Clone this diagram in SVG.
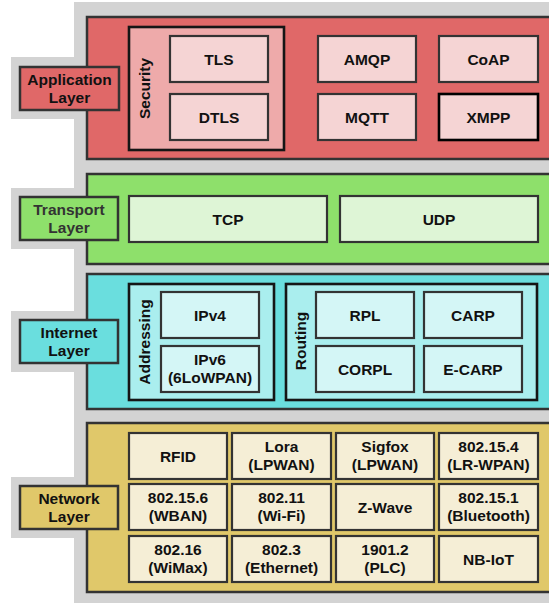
<svg xmlns="http://www.w3.org/2000/svg" width="549" height="603" viewBox="0 0 549 603">
<style>
text{font-family:"Liberation Sans",Arial,sans-serif;font-weight:bold;font-size:15.5px;fill:#111;text-anchor:middle}
.bg{fill:#d3d3d3}
.layer{stroke:#333;stroke-width:2.5}
.box{stroke:#333;stroke-width:2.2}
.grp{stroke:#151515;stroke-width:2.6}
.red{fill:#e06868}.redg{fill:#eeaaaa}.redi{fill:#f5d4d4}
.grn{fill:#8ee06b}.grni{fill:#def5d6}
.cya{fill:#6adede}.cyag{fill:#aaeeee}.cyai{fill:#d4f6f6}
.yel{fill:#e0c86a}.yeli{fill:#f5eed6}
</style>
<rect width="549" height="603" fill="#fff"/>
<g id="background">
<rect class="bg" x="74" y="2" width="480" height="601"/>
<rect class="bg" x="11" y="57" width="70" height="62"/>
<rect class="bg" x="11" y="188" width="70" height="61"/>
<rect class="bg" x="11" y="311" width="70" height="61"/>
<rect class="bg" x="11" y="477" width="70" height="61"/>
</g>
<g id="connectors"/>
<g id="application-layer">
<rect class="layer red" x="87" y="17" width="470" height="142"/>
<g id="app-label"><rect class="layer red" x="20" y="67" width="99" height="43"/><text x="69.5" y="84.5">Application</text><text x="69.5" y="102.5">Layer</text></g>
<g id="security"><rect class="grp redg" x="129" y="27" width="155" height="123"/><text transform="translate(150,88.5) rotate(-90)">Security</text></g>
<g id="tls"><rect class="box redi" x="170" y="36" width="98" height="46"/><text x="219" y="64.5">TLS</text></g>
<g id="dtls"><rect class="box redi" x="170" y="94" width="98" height="46"/><text x="219" y="122.5">DTLS</text></g>
<g id="amqp"><rect class="box redi" x="318" y="36" width="98" height="46"/><text x="367" y="64.5">AMQP</text></g>
<g id="coap"><rect class="box redi" x="439" y="36" width="99" height="46"/><text x="488.5" y="64.5">CoAP</text></g>
<g id="mqtt"><rect class="box redi" x="318" y="94" width="98" height="46"/><text x="367" y="122.5">MQTT</text></g>
<g id="xmpp"><rect class="redi" x="439" y="94" width="99" height="46" stroke="#000" stroke-width="2.6"/><text x="488.5" y="122.5">XMPP</text></g>
</g>
<g id="transport-layer">
<rect class="layer grn" x="87" y="174" width="470" height="90"/>
<g id="transport-label"><rect class="layer grn" x="20" y="197" width="98" height="43"/><text x="69" y="214.5" style="fill:#333">Transport</text><text x="69" y="232.5" style="fill:#333">Layer</text></g>
<g id="tcp"><rect class="box grni" x="129" y="196" width="198" height="46"/><text x="228" y="224.5">TCP</text></g>
<g id="udp"><rect class="box grni" x="340" y="196" width="198" height="46"/><text x="439" y="224.5">UDP</text></g>
</g>
<g id="internet-layer">
<rect class="layer cya" x="87" y="274" width="470" height="135"/>
<g id="internet-label"><rect class="layer cya" x="20" y="320" width="98" height="43"/><text x="69" y="337.5">Internet</text><text x="69" y="355.5">Layer</text></g>
<g id="addressing"><rect class="grp cyag" x="129" y="284" width="145" height="116"/><text transform="translate(150,342) rotate(-90)">Addressing</text></g>
<g id="ipv4"><rect class="box cyai" x="161" y="292" width="98" height="46"/><text x="210" y="320.5">IPv4</text></g>
<g id="ipv6"><rect class="box cyai" x="161" y="346" width="98" height="46"/><text x="210" y="365">IPv6</text><text x="210" y="383">(6LoWPAN)</text></g>
<g id="routing"><rect class="grp cyag" x="286" y="284" width="251" height="116"/><text transform="translate(306,341) rotate(-90)">Routing</text></g>
<g id="rpl"><rect class="box cyai" x="316" y="292" width="98" height="46"/><text x="365" y="320.5">RPL</text></g>
<g id="carp"><rect class="box cyai" x="424" y="292" width="98" height="46"/><text x="473" y="320.5">CARP</text></g>
<g id="corpl"><rect class="box cyai" x="316" y="346" width="98" height="46"/><text x="365" y="374.5">CORPL</text></g>
<g id="e-carp"><rect class="box cyai" x="424" y="346" width="98" height="46"/><text x="473" y="374.5">E-CARP</text></g>
</g>
<g id="network-layer">
<rect class="layer yel" x="87" y="423" width="470" height="169"/>
<g id="network-label"><rect class="layer yel" x="20" y="486" width="98" height="43"/><text x="69" y="503.5">Network</text><text x="69" y="521.5">Layer</text></g>
<g id="rfid"><rect class="box yeli" x="129" y="433" width="98" height="46"/><text x="178" y="461.5">RFID</text></g>
<g id="lora"><rect class="box yeli" x="232" y="433" width="99" height="46"/><text x="281.5" y="451.5">Lora</text><text x="281.5" y="469.5">(LPWAN)</text></g>
<g id="sigfox"><rect class="box yeli" x="336" y="433" width="98" height="46"/><text x="385" y="451.5">Sigfox</text><text x="385" y="469.5">(LPWAN)</text></g>
<g id="ieee802154"><rect class="box yeli" x="439" y="433" width="99" height="46"/><text x="488.5" y="451.5">802.15.4</text><text x="488.5" y="469.5">(LR-WPAN)</text></g>
<g id="ieee802156"><rect class="box yeli" x="129" y="484" width="98" height="46"/><text x="178" y="502.5">802.15.6</text><text x="178" y="520.5">(WBAN)</text></g>
<g id="ieee80211"><rect class="box yeli" x="232" y="484" width="99" height="46"/><text x="281.5" y="502.5">802.11</text><text x="281.5" y="520.5">(Wi-Fi)</text></g>
<g id="zwave"><rect class="box yeli" x="336" y="484" width="98" height="46"/><text x="385" y="512.5">Z-Wave</text></g>
<g id="ieee802151"><rect class="box yeli" x="439" y="484" width="99" height="46"/><text x="488.5" y="502.5">802.15.1</text><text x="488.5" y="520.5">(Bluetooth)</text></g>
<g id="ieee80216"><rect class="box yeli" x="129" y="536" width="98" height="46"/><text x="178" y="554.5">802.16</text><text x="178" y="572.5">(WiMax)</text></g>
<g id="ieee8023"><rect class="box yeli" x="232" y="536" width="99" height="46"/><text x="281.5" y="554.5">802.3</text><text x="281.5" y="572.5">(Ethernet)</text></g>
<g id="ieee19012"><rect class="box yeli" x="336" y="536" width="98" height="46"/><text x="385" y="554.5">1901.2</text><text x="385" y="572.5">(PLC)</text></g>
<g id="nbiot"><rect class="box yeli" x="439" y="536" width="99" height="46"/><text x="488.5" y="564.5">NB-IoT</text></g>
</g>
</svg>
